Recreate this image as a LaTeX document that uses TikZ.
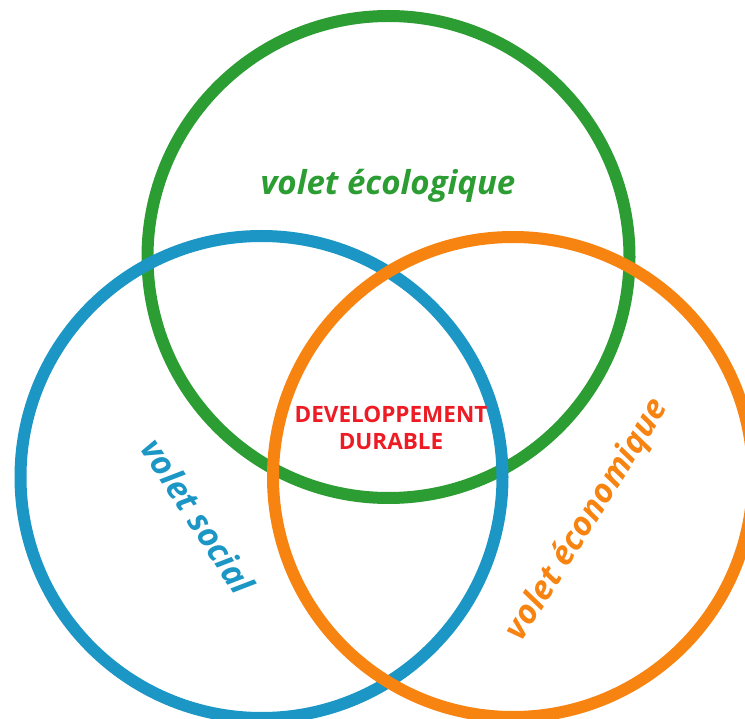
\documentclass[tikz,border=0pt]{standalone}
\usepackage{fontspec}
\setmainfont{Open Sans}
\definecolor{vgreen}{RGB}{44,157,51}
\definecolor{vblue}{RGB}{28,150,197}
\definecolor{vorange}{RGB}{247,131,17}
\definecolor{vred}{RGB}{237,28,36}
\begin{document}
\begin{tikzpicture}[x=1pt,y=-1pt,
  ring/.style={circle,draw,line width=12pt,inner sep=0pt,minimum size=482pt},
  lbl/.style={font=\fontsize{33}{38}\selectfont\bfseries\itshape,inner sep=0pt}]
\useasboundingbox (0,0) rectangle (745,719);
\clip (0,0) rectangle (745,719);
\node[ring,draw=vgreen] (eco) at (388.5,257) {};
\node[ring,draw=vblue] (soc) at (261.5,477) {};
\node[ring,draw=vorange,minimum size=480pt] (econ) at (513,477) {};
\node[lbl,text=vgreen] (teco) at (388,186) {volet écologique};
\node[lbl,text=vblue,rotate=-57] (tsoc) at (198,516) {volet social};
\node[lbl,text=vorange,rotate=58] (tecon) at (588,520) {volet économique};
\node[font=\fontsize{22.5}{27}\selectfont\bfseries,text=vred,align=center,inner sep=0pt] (dd) at (391,428) {DEVELOPPEMENT\\DURABLE};
\end{tikzpicture}
\end{document}
